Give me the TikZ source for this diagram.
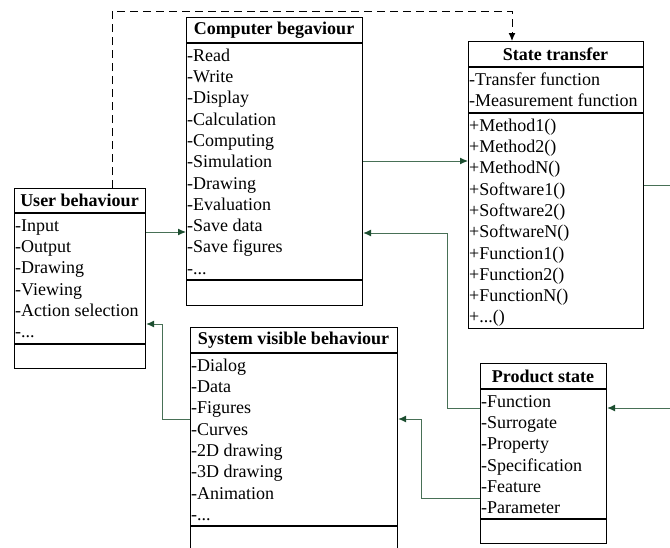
\documentclass[tikz,border=0pt]{standalone}
\usepackage{fontspec}
\setmainfont{Liberation Serif}
\usetikzlibrary{arrows.meta}
\definecolor{linkline}{RGB}{72,112,86}
\definecolor{linkhead}{RGB}{28,78,48}
\tikzset{
  classbox/.style={draw=black, line width=1.2pt, rectangle, inner sep=0pt, anchor=north west},
  sepline/.style={draw=black, line width=1.2pt},
  items/.style={anchor=north west, inner sep=0pt, align=left, font=\fontsize{18}{21.3}\selectfont},
  ctitle/.style={inner sep=0pt, font=\fontsize{18}{21.3}\selectfont\bfseries},
  link/.style={draw=linkline, line width=1pt, -{Latex[length=8pt,width=7pt,color=linkhead]}},
  plainlink/.style={draw=linkline, line width=1pt},
  depend/.style={draw=black, line width=1pt, dash pattern=on 8pt off 5pt, -{Latex[length=8pt,width=7pt]}}
}
\begin{document}
\begin{tikzpicture}[x=1pt, y=-1pt]
\useasboundingbox (0,0) rectangle (670,547);
\clip (0,0) rectangle (670,547);

% ---- User behaviour
\node[classbox, minimum width=131pt, minimum height=180pt] (user) at (14,188) {};
\draw[sepline] ([yshift=-25pt]user.north west) -- ([yshift=-25pt]user.north east);
\draw[sepline] ([yshift=-156pt]user.north west) -- ([yshift=-156pt]user.north east);
\node[ctitle] (user-t) at (79.5,200.5) {User behaviour};
\node[items] (user-a) at (15,216.1) {\strut-Input\\-Output\\-Drawing\\-Viewing\\-Action selection\\-...};

% ---- Computer begaviour
\node[classbox, minimum width=176pt, minimum height=288pt] (comp) at (186,17) {};
\draw[sepline] ([yshift=-26pt]comp.north west) -- ([yshift=-26pt]comp.north east);
\draw[sepline] ([yshift=-263pt]comp.north west) -- ([yshift=-263pt]comp.north east);
\node[ctitle] (comp-t) at (274,30) {Computer begaviour};
\node[items] (comp-a) at (187,46.1) {\strut-Read\\-Write\\-Display\\-Calculation\\-Computing\\-Simulation\\-Drawing\\-Evaluation\\-Save data\\-Save figures\\-...};

% ---- State transfer
\node[classbox, minimum width=175pt, minimum height=287pt] (state) at (468,41) {};
\draw[sepline] ([yshift=-26pt]state.north west) -- ([yshift=-26pt]state.north east);
\draw[sepline] ([yshift=-72pt]state.north west) -- ([yshift=-72pt]state.north east);
\node[ctitle] (state-t) at (555.5,54) {State transfer};
\node[items] (state-a) at (469,70.1) {\strut-Transfer function\\-Measurement function};
\node[items] (state-m) at (469,116.1) {\strut+Method1()\\+Method2()\\+MethodN()\\+Software1()\\+Software2()\\+SoftwareN()\\+Function1()\\+Function2()\\+FunctionN()\\+...()};

% ---- System visible behaviour
\node[classbox, minimum width=207pt, minimum height=225pt] (sys) at (190,327) {};
\draw[sepline] ([yshift=-26pt]sys.north west) -- ([yshift=-26pt]sys.north east);
\draw[sepline] ([yshift=-199pt]sys.north west) -- ([yshift=-199pt]sys.north east);
\node[ctitle] (sys-t) at (293.5,340) {System visible behaviour};
\node[items] (sys-a) at (191,356.1) {\strut-Dialog\\-Data\\-Figures\\-Curves\\-2D drawing\\-3D drawing\\-Animation\\-...};

% ---- Product state
\node[classbox, minimum width=126pt, minimum height=180pt] (prod) at (480,363) {};
\draw[sepline] ([yshift=-26pt]prod.north west) -- ([yshift=-26pt]prod.north east);
\draw[sepline] ([yshift=-156pt]prod.north west) -- ([yshift=-156pt]prod.north east);
\node[ctitle] (prod-t) at (543,376) {Product state};
\node[items] (prod-a) at (481,392.1) {\strut-Function\\-Surrogate\\-Property\\-Specification\\-Feature\\-Parameter};

% ---- routing points
\coordinate (dA) at (112,11);
\coordinate (dB) at (512,11);
\coordinate (rowUC) at (0,232);
\coordinate (rowCS) at (0,161);
\coordinate (exitS) at (670,185);
\coordinate (enterP) at (670,408);
\coordinate (bendPC) at (447,233);
\coordinate (rowPC) at (0,408);
\coordinate (bendPS) at (421,419);
\coordinate (rowPS) at (0,498);
\coordinate (bendSU) at (162,324);
\coordinate (rowSU) at (0,419);

% ---- connectors
\draw[depend] (dA |- user.north) -- (dA) -- (dB) -- (dB |- state.north);
\draw[link] (user.east |- rowUC) -- (comp.west |- rowUC);
\draw[link] (comp.east |- rowCS) -- (state.west |- rowCS);
\draw[plainlink] (state.east |- exitS) -- (exitS);
\draw[link] (enterP) -- (prod.east |- enterP);
\draw[link] (prod.west |- rowPC) -| (bendPC) -- (comp.east |- bendPC);
\draw[link] (prod.west |- rowPS) -| (bendPS) -- (sys.east |- bendPS);
\draw[link] (sys.west |- rowSU) -| (bendSU) -- (user.east |- bendSU);
\end{tikzpicture}
\end{document}
